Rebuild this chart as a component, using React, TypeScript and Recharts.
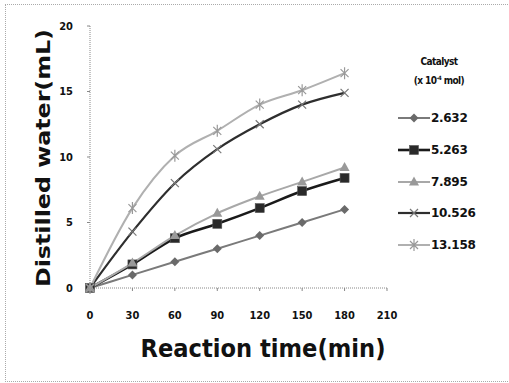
import React from 'react';
import { LineChart, Line, XAxis, YAxis } from 'recharts';

// Reaction time (min)
const times = [0, 30, 60, 90, 120, 150, 180];
// Distilled water (mL) for each catalyst amount (x 10^-4 mol)
const cat2632 = [0, 1, 2, 3, 4, 5, 6];
const cat5263 = [0, 1.8, 3.8, 4.9, 6.1, 7.4, 8.4];
const cat7895 = [0, 1.9, 4.0, 5.7, 7.0, 8.1, 9.2];
const cat10526 = [0, 4.3, 8.0, 10.6, 12.5, 14.0, 14.9];
const cat13158 = [0, 6.1, 10.1, 12.0, 14.0, 15.1, 16.4];

const xTicks = [0, 30, 60, 90, 120, 150, 180, 210];
const yTicks = [0, 5, 10, 15, 20];

const seriesNames = ['2.632', '5.263', '7.895', '10.526', '13.158'];
const seriesValues = [cat2632, cat5263, cat7895, cat10526, cat13158];

const data = times.map((t, i) => {
  const row: Record<string, number> = { t };
  seriesNames.forEach((n, k) => {
    row[n] = seriesValues[k][i];
  });
  return row;
});

type Shape = 'diamond' | 'square' | 'triangle' | 'cross' | 'star';
const styles: { color: string; width: number; shape: Shape; markColor: string }[] = [
  { color: '#7a7a7a', width: 2, shape: 'diamond', markColor: '#6a6a6a' },
  { color: '#1a1a1a', width: 2.6, shape: 'square', markColor: '#2a2a2a' },
  { color: '#a8a8a8', width: 2, shape: 'triangle', markColor: '#999' },
  { color: '#2e2e2e', width: 2.2, shape: 'cross', markColor: '#777' },
  { color: '#b0b0b0', width: 2, shape: 'star', markColor: '#999' },
];

const font = '"DejaVu Sans", Verdana, sans-serif';
const condensed = '"DejaVu Sans Condensed", "DejaVu Sans", sans-serif';

function Marker({ cx, cy, shape, color }: { cx: number; cy: number; shape: Shape; color: string }) {
  if (cx == null || cy == null) return null;
  switch (shape) {
    case 'diamond':
      return <path d={`M${cx},${cy - 4.5}L${cx + 4.5},${cy}L${cx},${cy + 4.5}L${cx - 4.5},${cy}Z`} fill={color} />;
    case 'square':
      return <rect x={cx - 4.5} y={cy - 4.5} width={9} height={9} fill={color} stroke="#555" strokeWidth={0.6} />;
    case 'triangle':
      return <path d={`M${cx},${cy - 5.5}L${cx + 5},${cy + 3.5}L${cx - 5},${cy + 3.5}Z`} fill={color} />;
    case 'cross':
      return (
        <path
          d={`M${cx - 4},${cy - 4}L${cx + 4},${cy + 4}M${cx - 4},${cy + 4}L${cx + 4},${cy - 4}`}
          stroke={color}
          strokeWidth={1.2}
        />
      );
    case 'star':
      return (
        <path
          d={`M${cx - 4},${cy - 4}L${cx + 4},${cy + 4}M${cx - 4},${cy + 4}L${cx + 4},${cy - 4}M${cx},${cy - 6}L${cx},${cy + 6}`}
          stroke={color}
          strokeWidth={1.2}
        />
      );
  }
  return null;
}

function LegendBox() {
  return (
    <div
      style={{
        position: 'absolute',
        left: 396,
        top: 54,
        width: 110,
        fontFamily: font,
        fontWeight: 'bold',
        color: '#111',
      }}
    >
      <div style={{ width: 86, textAlign: 'center', fontSize: 10, lineHeight: '16px', letterSpacing: -0.6, fontFamily: condensed }}>
        Catalyst
      </div>
      <div style={{ width: 86, textAlign: 'center', fontSize: 10, lineHeight: '16px', letterSpacing: -0.6, fontFamily: condensed }}>
        (x 10<sup style={{ fontSize: 6 }}>-4</sup> mol)
      </div>
      <div style={{ height: 13 }} />
      {seriesNames.map((n, k) => (
        <div key={n} style={{ display: 'flex', alignItems: 'center', height: 31.7 }}>
          <svg width={34} height={14}>
            <line x1={2} y1={7} x2={34} y2={7} stroke={styles[k].color} strokeWidth={styles[k].width} />
            <Marker cx={18} cy={7} shape={styles[k].shape} color={styles[k].markColor} />
          </svg>
          <span style={{ fontSize: 12, marginLeft: 1, letterSpacing: -0.3 }}>{n}</span>
        </div>
      ))}
    </div>
  );
}

export default function App() {
  return (
    <div
      style={{
        position: 'absolute',
        left: 0,
        top: 0,
        width: 509,
        height: 383,
        background: '#fff',
        overflow: 'hidden',
      }}
    >
      <div
        style={{
          position: 'absolute',
          left: 5,
          top: 4,
          width: 510,
          height: 376,
          borderLeft: '1.5px dotted #aaa',
          borderTop: '1.5px dotted #aaa',
          borderBottom: '1.5px dotted #aaa',
        }}
      />
      <LineChart
        width={509}
        height={383}
        data={data}
        margin={{ top: 26, right: 122, bottom: 65, left: 0 }}
        style={{ position: 'absolute', left: 0, top: 0 }}
      >
        <XAxis
          dataKey="t"
          type="number"
          domain={[0, 210]}
          ticks={xTicks}
          height={30}
          axisLine={{ stroke: '#888', strokeDasharray: '1 1' }}
          tickLine={{ stroke: '#888' }}
          tickSize={3}
          tickMargin={20}
          tick={{ fontFamily: condensed, fontSize: 11, fontWeight: 'bold', fill: '#111' }}
          label={() => (
            <text
              x={263}
              y={357}
              textAnchor="middle"
              fontFamily={font}
              fontSize={25}
              fontWeight="bold"
              fill="#111"
              textLength={245}
              lengthAdjust="spacingAndGlyphs"
            >
              Reaction time(min)
            </text>
          )}
        />
        <YAxis
          type="number"
          domain={[0, 20]}
          ticks={yTicks}
          width={90}
          axisLine={{ stroke: '#888', strokeDasharray: '1 1' }}
          tickLine={{ stroke: '#888' }}
          tickSize={3}
          tickMargin={14}
          tick={{ fontFamily: condensed, fontSize: 11, fontWeight: 'bold', fill: '#111' }}
          label={() => (
            <text
              x={0}
              y={0}
              transform="translate(50,158) rotate(-90)"
              textAnchor="middle"
              fontFamily={font}
              fontSize={20}
              fontWeight="bold"
              fill="#111"
              textLength={258}
              lengthAdjust="spacingAndGlyphs"
            >
              Distilled water(mL)
            </text>
          )}
        />
        {seriesNames.map((n, k) => (
          <Line
            key={n}
            dataKey={n}
            type="monotone"
            stroke={styles[k].color}
            strokeWidth={styles[k].width}
            isAnimationActive={false}
            dot={(p: any) => (
              <Marker key={`${n}-${p.index}`} cx={p.cx} cy={p.cy} shape={styles[k].shape} color={styles[k].markColor} />
            )}
            activeDot={false}
          />
        ))}
      </LineChart>
      <LegendBox />
    </div>
  );
}
